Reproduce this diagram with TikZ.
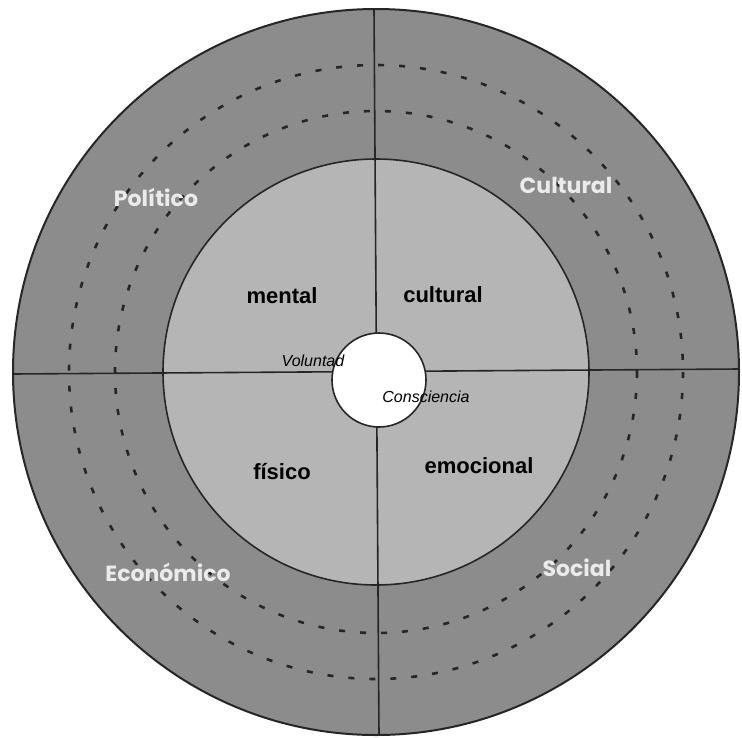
\documentclass[tikz,border=0pt]{standalone}
\usepackage{fontspec}
\setmainfont{Liberation Sans}
\newfontfamily\ringfont{Poppins}
\begin{document}
\begin{tikzpicture}[x=1pt,y=-1pt,
  ringlabel/.style={font=\ringfont\bfseries\fontsize{22}{26}\selectfont, text=white!92!black},
  innerlabel/.style={font=\bfseries\fontsize{22}{26}\selectfont, text=black},
  corelabel/.style={font=\itshape\fontsize{16}{19}\selectfont, text=black},
  dashring/.style={draw=black!85, line width=2.6pt, dash pattern=on 6pt off 15pt},
  edge/.style={draw=black!85, line width=1.6pt}]
\useasboundingbox (0,0) rectangle (742,737);
\fill[white] (0,0) rectangle (742,737);
\coordinate (c) at (376,372);
\coordinate (cc) at (379,380);
% rings
\fill[black!45] (c) circle (363);
\draw[dashring] (c) circle (307);
\draw[dashring] (c) circle (261);
\fill[black!29] (c) circle (213);
% axes
\coordinate (top) at (374,9);
\coordinate (bot) at (379,735);
\coordinate (lft) at (13,374);
\coordinate (rgt) at (739,369);
\draw[edge] (top) -- (bot);
\draw[edge] (lft) -- (rgt);
\draw[edge] (c) circle (213);
\draw[black!85, line width=2pt] (c) circle (363);
% core
\node[circle, fill=white, draw=black!85, line width=1.6pt, minimum size=94pt, inner sep=0pt] (core) at (cc) {};
% labels
\node[ringlabel] (pol) at (156,197) {Político};
\node[ringlabel] (cul) at (566,185) {Cultural};
\node[ringlabel] (eco) at (168,572) {Económico};
\node[ringlabel] (soc) at (577,568) {Social};
\node[innerlabel] (men) at (282,296) {mental};
\node[innerlabel] (cult) at (443,295) {cultural};
\node[innerlabel] (fis) at (282,472) {físico};
\node[innerlabel] (emo) at (479,466) {emocional};
\node[corelabel] (vol) at (313,361) {Voluntad};
\node[corelabel] (con) at (426,397) {Consciencia};
\end{tikzpicture}
\end{document}
